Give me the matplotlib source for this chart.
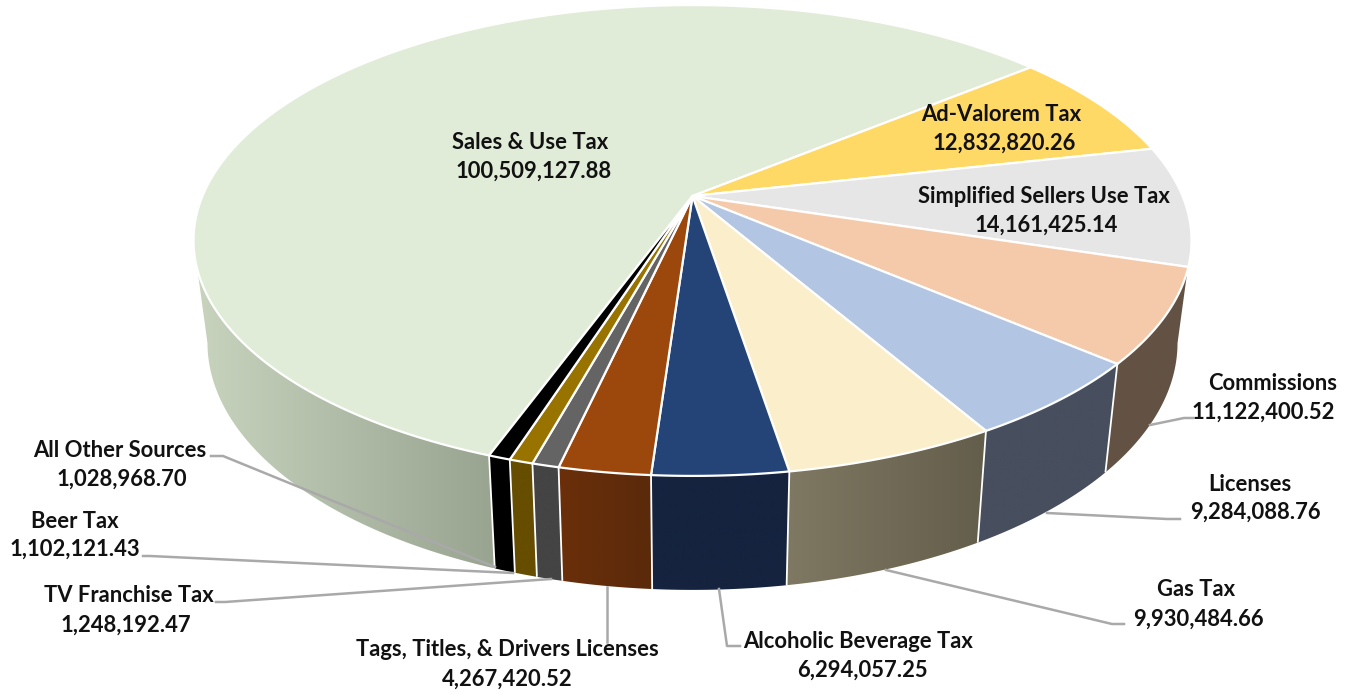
import numpy as np
import matplotlib
matplotlib.use('Agg')
import matplotlib.pyplot as plt
from matplotlib.patches import Polygon
from matplotlib.colors import to_rgb

# --- data ---
names = ['Sales & Use Tax', 'Ad-Valorem Tax', 'Simplified Sellers Use Tax', 'Commissions',
         'Licenses', 'Gas Tax', 'Alcoholic Beverage Tax', 'Tags, Titles, & Drivers Licenses',
         'TV Franchise Tax', 'Beer Tax', 'All Other Sources']
values = [100509127.88, 12832820.26, 14161425.14, 11122400.52, 9284088.76, 9930484.66,
          6294057.25, 4267420.52, 1248192.47, 1102121.43, 1028968.70]

top_colors = ['#e0ecd7', '#ffd966', '#e7e6e6', '#f5caab', '#b2c5e3', '#fbeecb',
              '#244477', '#9c480d', '#646464', '#997300', '#000000']
# side colour at the left and right end of each slice (None = side not visible)
side_left = ['#c9d4bf', None, None, '#635244', '#474e5e', '#7f7862', '#15233f', '#6b2f0a',
             '#444444', '#664d00', '#000000']
side_right = ['#98a390', None, None, '#635244', '#474e5e', '#635d4b', '#15233f', '#5a2a0a',
              '#444444', '#664d00', '#000000']

# label centres: name line, value line
name_pos = [(530, 142), (1001, 114), (1044, 196), (1273, 383), (1250, 484), (1196, 589),
            (858, 641), (507, 650), (129, 596), (75, 521), (120, 450)]
value_pos = [(534, 171), (1004, 143), (1046, 225), (1263, 412), (1255, 512), (1198, 619),
             (862, 670), (507, 679), (126, 625), (75, 549), (122, 479)]

# leader lines (pixels), only for the outside labels
leaders = {
    3: [(1150, 425), (1184, 418), (1193, 418)],
    4: [(1047, 513), (1167, 519), (1180, 519)],
    5: [(886, 570), (1112, 624), (1124, 624)],
    6: [(719, 589), (727, 646), (740, 646)],
    7: [(607, 587), (607, 642)],
    8: [(551, 579), (225, 602), (216, 602)],
    9: [(513, 573), (150, 556), (143, 556)],
    10: [(495, 567), (223, 456), (211, 456)],
}

# --- geometry of the tilted pie ---
CX, CY = 692.5, 196
A, B, P = 490, 227, -0.189      # perspective of the top face
SX, SY, DROP = 0.972, 1.05, 100 # bottom rim relative to top rim
FIRST_ANGLE = 50.6              # where the first slice ends going round (deg from 12 o'clock)
SIDE_FROM, SIDE_TO = 101, 259   # visible part of the side wall


def top_xy(deg):
    t = np.radians(deg)
    u, v = np.sin(t), -np.cos(t)
    w = 1 + P * v
    return A * u / w, B * v / w


def rim(deg):
    x, y = top_xy(deg)
    return CX + x, CY + y


def low(deg):
    x, y = top_xy(deg)
    return CX + SX * x, CY + DROP + SY * y


fracs = np.array(values) / sum(values) * 360
ends = [FIRST_ANGLE]
for f in fracs[1:]:
    ends.append(ends[-1] + f)
starts = [FIRST_ANGLE - fracs[0]] + ends[:-1]

fig = plt.figure(figsize=(13.63, 6.94), dpi=100)
ax = fig.add_axes([0, 0, 1, 1])

# side walls: horizontal gradient clipped to the wall outline
for i in range(len(values)):
    if side_left[i] is None:
        continue
    a0, a1 = starts[i] % 360, ends[i] % 360
    if a1 < a0:
        a1 += 360
    if i == 0:
        a1 = SIDE_TO
    if i == 3:
        a0 = SIDE_FROM
    th = np.linspace(a0, a1, 80)
    outline = [rim(t) for t in th] + [low(t) for t in th[::-1]]
    xs = [p[0] for p in outline]
    ys = [p[1] for p in outline]
    c0, c1 = np.array(to_rgb(side_left[i])), np.array(to_rgb(side_right[i]))
    grad = np.linspace(0, 1, 256)[None, :, None]
    img = c0[None, None, :] + (c1 - c0)[None, None, :] * grad
    im = ax.imshow(img, extent=(min(xs), max(xs), max(ys), min(ys)), aspect='auto', zorder=2,
                   interpolation='bilinear')
    patch = Polygon(outline, closed=True, transform=ax.transData, facecolor='none', edgecolor='none')
    ax.add_patch(patch)
    im.set_clip_path(patch)

# separators on the side walls
for i in range(3, len(values)):
    a = ends[i] % 360
    p, q = rim(a), low(a)
    ax.plot([p[0], q[0]], [p[1], q[1]], color='white', lw=1.3, zorder=3, solid_capstyle='butt')

# top face
for i in range(len(values)):
    th = np.linspace(starts[i], ends[i], 200)
    pts = [(CX, CY)] + [rim(t) for t in th]
    ax.fill(*zip(*pts), facecolor=top_colors[i], edgecolor='white', lw=1.6, joinstyle='round', zorder=4)

# leaders and labels
for i, pts in leaders.items():
    ax.plot(*zip(*pts), color='#a9a9a9', lw=1.8, zorder=5, solid_joinstyle='round')

for i in range(len(values)):
    font = dict(family='Lato', fontweight='bold', fontsize=15.8, color='#111111',
                ha='center', va='center', zorder=6)
    ax.text(name_pos[i][0], name_pos[i][1], names[i], **font)
    ax.text(value_pos[i][0], value_pos[i][1], f'{values[i]:,.2f}', **font)

ax.set_xlim(0, 1363)
ax.set_ylim(694, 0)
ax.axis('off')

fig.savefig('out.png', dpi=100, facecolor='white')
